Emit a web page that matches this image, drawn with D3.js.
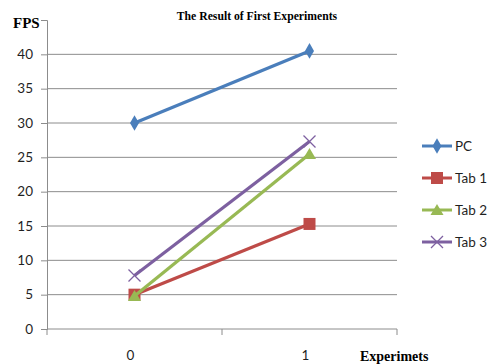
<!DOCTYPE html>
<html>
<head>
<meta charset="utf-8">
<script src="https://cdn.jsdelivr.net/npm/d3@7/dist/d3.min.js"></script>
<style>
  html, body { margin: 0; padding: 0; background: #fff; }
  svg { display: block; }
</style>
</head>
<body>
<svg id="chart" width="493" height="364"></svg>
<script>
// Experiment indices along the x axis
const experiments = ["0", "1"];
// Frames per second measured on each device
const pc   = [30, 40.5];
const tab1 = [5, 15.3];
const tab2 = [4.8, 25.5];
const tab3 = [7.8, 27.3];
const seriesNames = ["PC", "Tab 1", "Tab 2", "Tab 3"];
const yTicks = [0, 5, 10, 15, 20, 25, 30, 35, 40];

const seriesList = [
  { name: seriesNames[0], values: pc,   color: "#4A7EBB", marker: "diamond" },
  { name: seriesNames[1], values: tab1, color: "#BE4B48", marker: "square" },
  { name: seriesNames[2], values: tab2, color: "#98B954", marker: "triangle" },
  { name: seriesNames[3], values: tab3, color: "#7D60A0", marker: "x" }
];

const svg = d3.select("#chart");
const plot = { left: 47, right: 397, top: 20, bottom: 329 };

const x = d3.scaleBand().domain(experiments).range([plot.left, plot.right]);
const y = d3.scaleLinear().domain([0, 45]).range([plot.bottom, plot.top]);
const cx = d => x(d) + x.bandwidth() / 2;

// Horizontal gridlines
svg.append("g").selectAll("line")
  .data(yTicks.filter(t => t > 0))
  .join("line")
  .attr("x1", plot.left).attr("x2", plot.right)
  .attr("y1", d => y(d)).attr("y2", d => y(d))
  .attr("stroke", "#8c8c8c").attr("stroke-width", 1);

// Y axis
const yAxis = d3.axisLeft(y).tickValues(yTicks.concat([45])).tickSize(6).tickFormat(d => d === 45 ? "" : d);
const gy = svg.append("g").attr("transform", `translate(${plot.left},0)`).call(yAxis);
gy.select(".domain").attr("stroke", "#8c8c8c");
gy.selectAll(".tick line").attr("stroke", "#8c8c8c");
gy.selectAll(".tick text")
  .attr("x", -14)
  .attr("fill", "#1f1f1f")
  .style("font-family", "Lato, 'Open Sans', sans-serif")
  .style("font-size", "13.5px");

// X axis with ticks between categories
const gx = svg.append("g").attr("transform", `translate(0,${plot.bottom})`);
gx.append("line").attr("x1", plot.left).attr("x2", plot.right)
  .attr("stroke", "#8c8c8c");
const bounds = experiments.map(d => x(d)).concat([plot.right]);
gx.selectAll("line.tk").data(bounds).join("line").attr("class", "tk")
  .attr("x1", d => d).attr("x2", d => d).attr("y1", 0).attr("y2", 6)
  .attr("stroke", "#8c8c8c");
gx.selectAll("text").data(experiments).join("text")
  .attr("x", d => cx(d) - 4).attr("y", 31)
  .attr("text-anchor", "middle")
  .attr("fill", "#1f1f1f")
  .style("font-family", "Lato, 'Open Sans', sans-serif")
  .style("font-size", "13.5px")
  .text(d => d);

// Marker shapes
function drawMarker(g, type, color) {
  if (type === "diamond") {
    g.append("path").attr("d", d3.symbol(d3.symbolDiamond, 70)()).attr("fill", color);
  } else if (type === "square") {
    g.append("rect").attr("x", -6).attr("y", -6).attr("width", 12).attr("height", 12).attr("fill", color);
  } else if (type === "triangle") {
    g.append("path").attr("d", "M0,-6L6.5,5L-6.5,5Z").attr("fill", color);
  } else {
    g.append("path").attr("d", "M-6,-6L6,6M-6,6L6,-6").attr("stroke", color).attr("stroke-width", 1.3).attr("fill", "none");
  }
}

const line = d3.line().x((v, i) => cx(experiments[i])).y(v => y(v));

seriesList.forEach(s => {
  svg.append("path").datum(s.values)
    .attr("d", line)
    .attr("fill", "none")
    .attr("stroke", s.color)
    .attr("stroke-width", 3.2);
  s.values.forEach((v, i) => {
    const g = svg.append("g").attr("transform", `translate(${cx(experiments[i])},${y(v)})`);
    drawMarker(g, s.marker, s.color);
  });
});

// Legend
const legend = svg.append("g");
seriesList.forEach((s, i) => {
  const ly = 146 + i * 32;
  const g = legend.append("g").attr("transform", `translate(0,${ly})`);
  g.append("line").attr("x1", 422).attr("x2", 452).attr("y1", 0).attr("y2", 0)
    .attr("stroke", s.color).attr("stroke-width", 3);
  const m = g.append("g").attr("transform", "translate(437,0)");
  drawMarker(m, s.marker, s.color);
  g.append("text").attr("x", 455).attr("y", 5)
    .attr("fill", "#1f1f1f")
    .style("font-family", "Lato, 'Open Sans', sans-serif")
    .style("font-size", "13.5px")
    .text(s.name);
});

// Titles
svg.append("text").attr("x", 257).attr("y", 20).attr("text-anchor", "middle")
  .style("font-family", "'Liberation Serif', 'Times New Roman', serif")
  .style("font-weight", "bold").style("font-size", "11.7px")
  .text("The Result of First Experiments");
svg.append("text").attr("x", 13).attr("y", 28)
  .style("font-family", "'Liberation Serif', 'Times New Roman', serif")
  .style("font-weight", "bold").style("font-size", "15px")
  .text("FPS");
svg.append("text").attr("x", 360).attr("y", 361)
  .style("font-family", "'Liberation Serif', 'Times New Roman', serif")
  .style("font-weight", "bold").style("font-size", "14px")
  .text("Experimets");
</script>
</body>
</html>
